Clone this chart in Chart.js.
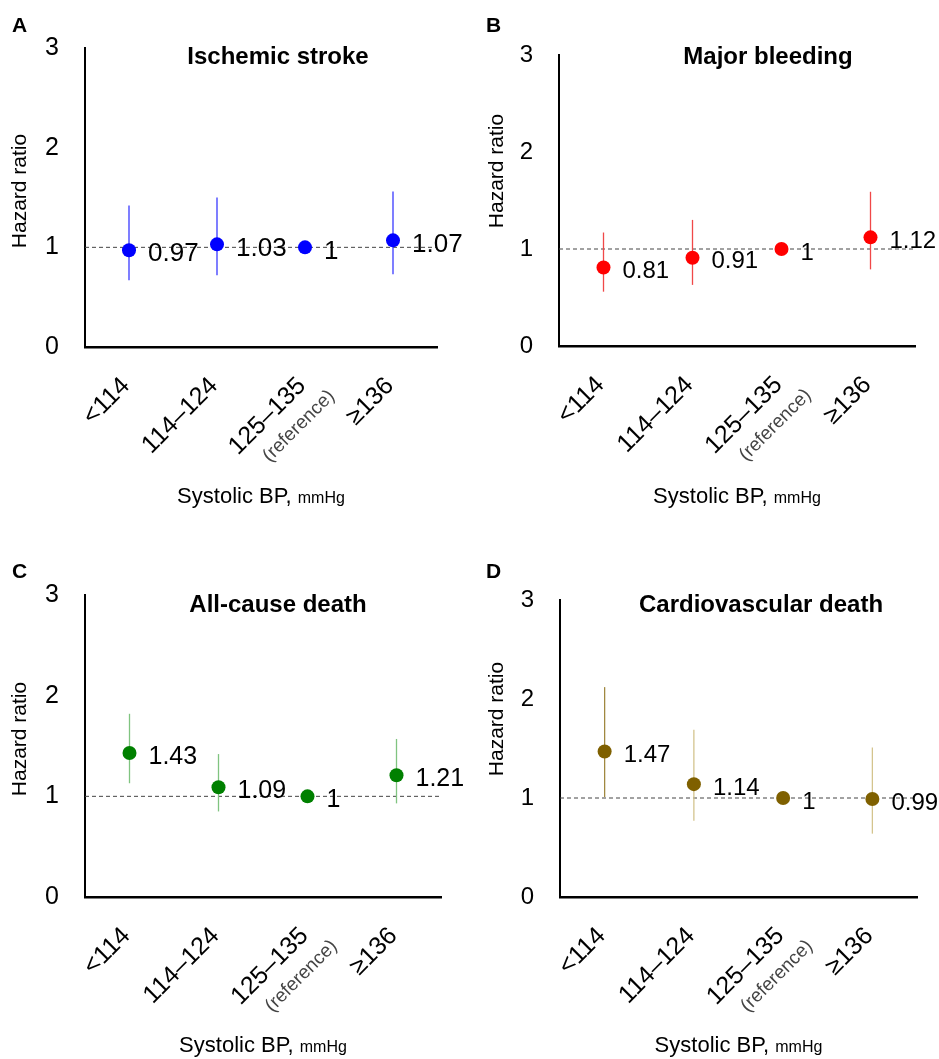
<!DOCTYPE html>
<html>
<head>
<meta charset="utf-8">
<script src="https://cdn.jsdelivr.net/npm/chart.js@4.4.1/dist/chart.umd.min.js"></script>
<style>
body { margin: 0; background: #fff; }
#wrap { position: relative; width: 939px; height: 1059px; }
.panel { position: absolute; }
</style>
</head>
<body>
<div id="wrap">
  <div class="panel" style="left:0;top:0;width:470px;height:550px"><canvas id="cA"></canvas></div>
  <div class="panel" style="left:470px;top:0;width:469px;height:550px"><canvas id="cB"></canvas></div>
  <div class="panel" style="left:0;top:550px;width:470px;height:509px"><canvas id="cC"></canvas></div>
  <div class="panel" style="left:470px;top:550px;width:469px;height:509px"><canvas id="cD"></canvas></div>
</div>
<script>
// DATA
var categories = ['<114', '114–124', '125–135', '≥136'];
var yTicks = [0, 1, 2, 3];

var strokeHR = [0.97, 1.03, 1, 1.07];
var strokeLo = [0.67, 0.72, null, 0.73];
var strokeHi = [1.42, 1.50, null, 1.56];

var bleedHR = [0.81, 0.91, 1, 1.12];
var bleedLo = [0.56, 0.63, null, 0.79];
var bleedHi = [1.17, 1.30, null, 1.59];

var deathHR = [1.43, 1.09, 1, 1.21];
var deathLo = [1.13, 0.85, null, 0.93];
var deathHi = [1.82, 1.42, null, 1.57];

var cvHR = [1.47, 1.14, 1, 0.99];
var cvLo = [1.01, 0.77, null, 0.64];
var cvHi = [2.12, 1.69, null, 1.51];

Chart.defaults.font.family = "'Liberation Sans', Arial, sans-serif";
Chart.defaults.color = '#000';

// extra drawing: error bars, ref line, labels, titles
var extras = {
  id: 'extras',
  beforeDatasetsDraw: function(chart) {
    var o = chart.options.plugins.extras;
    var ctx = chart.ctx, a = chart.chartArea;
    var xs = chart.scales.x, ys = chart.scales.y;
    ctx.save();
    // y = 1 dashed line
    ctx.strokeStyle = '#444';
    ctx.lineWidth = 1;
    ctx.setLineDash([4, 3]);
    ctx.beginPath();
    ctx.moveTo(a.left, ys.getPixelForValue(1));
    ctx.lineTo(a.right, ys.getPixelForValue(1));
    ctx.stroke();
    ctx.setLineDash([]);
    // error bars
    ctx.lineWidth = 1.3;
    o.lo.forEach(function(lo, i) {
      if (lo == null) return;
      var x = xs.getPixelForValue(i);
      ctx.strokeStyle = Array.isArray(o.errColor) ? o.errColor[i] : o.errColor;
      ctx.beginPath();
      ctx.moveTo(x, ys.getPixelForValue(lo));
      ctx.lineTo(x, ys.getPixelForValue(o.hi[i]));
      ctx.stroke();
    });
    ctx.restore();
  },
  afterDatasetsDraw: function(chart) {
    var o = chart.options.plugins.extras;
    var ctx = chart.ctx, a = chart.chartArea;
    var xs = chart.scales.x, ys = chart.scales.y;
    var ff = Chart.defaults.font.family;
    ctx.save();
    ctx.fillStyle = '#000';
    // value labels
    ctx.font = o.labelSize + 'px ' + ff;
    ctx.textAlign = 'left';
    ctx.textBaseline = 'middle';
    chart.data.datasets[0].data.forEach(function(v, i) {
      ctx.fillText(String(v), xs.getPixelForValue(i) + 19, ys.getPixelForValue(v) + 4);
    });
    // title + panel letter
    ctx.font = 'bold 24px ' + ff;
    ctx.textAlign = 'center';
    ctx.fillText(o.title, o.titleX, o.titleY);
    ctx.font = 'bold 21px ' + ff;
    ctx.textAlign = 'left';
    ctx.textBaseline = 'alphabetic';
    ctx.fillText(o.letter, o.letterX, o.letterY);
    // y title
    ctx.save();
    ctx.translate(o.yTitleX, o.yTitleY);
    ctx.rotate(-Math.PI / 2);
    ctx.font = '21px ' + ff;
    ctx.textAlign = 'center';
    ctx.textBaseline = 'middle';
    ctx.fillText('Hazard ratio', 0, 0);
    ctx.restore();
    // rotated category labels
    categories.forEach(function(c, i) {
      ctx.save();
      ctx.translate(xs.getPixelForValue(i) - 3, a.bottom + 35);
      ctx.rotate(-Math.PI / 4);
      ctx.textAlign = 'right';
      ctx.textBaseline = 'middle';
      ctx.font = '25px ' + ff;
      ctx.fillStyle = '#000';
      ctx.fillText(c, 0, 0);
      if (i === 2) {
        ctx.font = '19px ' + ff;
        ctx.fillStyle = '#444';
        ctx.fillText('(reference)', 13, 29);
      }
      ctx.restore();
    });
    // x title
    var cx = (a.left + a.right) / 2;
    ctx.font = '22px ' + ff;
    var w1 = ctx.measureText('Systolic BP, ').width;
    ctx.font = '16px ' + ff;
    var w2 = ctx.measureText('mmHg').width;
    var sx = cx - (w1 + w2) / 2;
    ctx.textAlign = 'left';
    ctx.textBaseline = 'alphabetic';
    ctx.font = '22px ' + ff;
    ctx.fillText('Systolic BP, ', sx, o.xTitleY);
    ctx.font = '16px ' + ff;
    ctx.fillText('mmHg', sx + w1, o.xTitleY);
    ctx.restore();
  }
};

function panel(id, hr, lo, hi, st) {
  return new Chart(document.getElementById(id), {
    type: 'line',
    data: {
      labels: categories,
      datasets: [{
        data: hr,
        showLine: false,
        pointRadius: 7,
        pointHoverRadius: 7,
        pointBackgroundColor: st.color,
        pointBorderColor: st.color,
        pointBorderWidth: 0
      }]
    },
    options: {
      responsive: true,
      maintainAspectRatio: false,
      animation: false,
      layout: { padding: st.pad },
      scales: {
        x: {
          offset: true,
          grid: { display: false },
          border: { color: '#000', width: 2.5 },
          ticks: { display: false },
          afterFit: function(s) { s.height = 0; }
        },
        y: {
          min: 0, max: 3,
          afterBuildTicks: function(s) { s.ticks = yTicks.map(function(v) { return { value: v }; }); },
          grid: { display: false, drawTicks: false },
          border: { color: '#000', width: 2 },
          ticks: { padding: 26, font: { size: st.tickSize } },
          afterFit: function(s) { s.width = 50; }
        }
      },
      plugins: {
        legend: { display: false },
        tooltip: { enabled: false },
        extras: st
      }
    },
    plugins: [extras]
  });
}

panel('cA', strokeHR, strokeLo, strokeHi, {
  lo: strokeLo, hi: strokeHi, color: '#0000ff', errColor: '#3a3aff',
  pad: { left: 35, top: 48, right: 33, bottom: 203 },
  tickSize: 25, labelSize: 26, title: 'Ischemic stroke', titleX: 278, titleY: 57,
  letter: 'A', letterX: 12, letterY: 32, yTitleX: 20, yTitleY: 191, xTitleY: 503
});
panel('cB', bleedHR, bleedLo, bleedHi, {
  lo: bleedLo, hi: bleedHi, color: '#ff0000', errColor: '#f04848',
  pad: { left: 39, top: 55, right: 24, bottom: 204 },
  tickSize: 24, labelSize: 24, title: 'Major bleeding', titleX: 298, titleY: 57,
  letter: 'B', letterX: 16, letterY: 32, yTitleX: 27, yTitleY: 171, xTitleY: 503
});
panel('cC', deathHR, deathLo, deathHi, {
  lo: deathLo, hi: deathHi, color: '#008000', errColor: '#80c480',
  pad: { left: 35, top: 45, right: 29, bottom: 162 },
  tickSize: 25, labelSize: 25, title: 'All-cause death', titleX: 278, titleY: 55,
  letter: 'C', letterX: 12, letterY: 28, yTitleX: 20, yTitleY: 189, xTitleY: 502
});
panel('cD', cvHR, cvLo, cvHi, {
  lo: cvLo, hi: cvHi, color: '#7f6000', errColor: ['#a08840', '#d4c48e', null, '#d4c48e'],
  pad: { left: 40, top: 50, right: 22, bottom: 162 },
  tickSize: 24, labelSize: 24, title: 'Cardiovascular death', titleX: 291, titleY: 55,
  letter: 'D', letterX: 16, letterY: 28, yTitleX: 27, yTitleY: 169, xTitleY: 502
});
</script>
</body>
</html>
